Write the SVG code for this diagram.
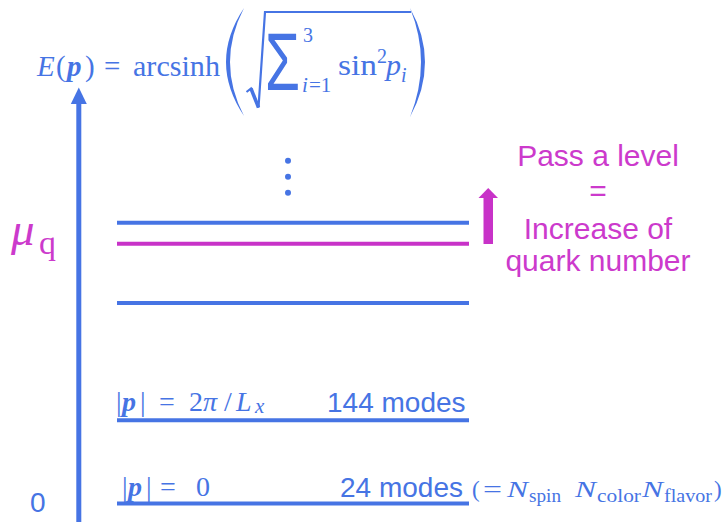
<svg xmlns="http://www.w3.org/2000/svg" width="727" height="522" viewBox="0 0 727 522">
<style>
.b{fill:#4674E4}
.m{fill:#CC3ACC}
.serif{font-family:"Liberation Serif","DejaVu Serif",serif}
.sans{font-family:"Liberation Sans","DejaVu Sans",sans-serif}
.it{font-style:italic}
.bi{font-style:italic;font-weight:bold}
.lvl{stroke-width:4;fill:none}
.lb{stroke:#4674E4}
.lm{stroke:#C832C8}
</style>
<rect width="727" height="522" fill="#FFFFFF"/>
<g id="connectors">
  <g id="energy-axis">
    <rect x="76.3" y="102" width="5" height="420" fill="#4674E4"/>
    <polygon points="78.8,87.5 70.8,104 86.8,104" fill="#4674E4"/>
  </g>
  <g id="pass-arrow">
    <rect x="483.5" y="196" width="9.5" height="48" fill="#C832C8"/>
    <polygon points="488.2,188 478.5,198 498,198" fill="#C832C8"/>
  </g>
</g>
<g id="levels">
  <line id="level-top" class="lvl lb" x1="117" y1="222.7" x2="469" y2="222.7"/>
  <line id="level-mu" class="lvl lm" x1="117" y1="243.7" x2="469" y2="243.7"/>
  <line id="level-3" class="lvl lb" x1="117" y1="303" x2="469" y2="303"/>
  <line id="level-2" class="lvl lb" x1="117" y1="420.3" x2="469" y2="420.3"/>
  <line id="level-1" class="lvl lb" x1="117" y1="503.5" x2="469" y2="503.5"/>
  <g id="dots" fill="#4674E4">
    <circle cx="288" cy="160.7" r="3"/>
    <circle cx="288" cy="176.7" r="3"/>
    <circle cx="288" cy="192.7" r="3"/>
  </g>
</g>
<g id="formula" class="b">
  <text class="serif" font-size="29" y="76"><tspan class="it" x="37">E</tspan><tspan x="56">(</tspan><tspan class="bi" x="67">p</tspan><tspan x="85">)</tspan><tspan x="104">=</tspan><tspan x="133" textLength="87" lengthAdjust="spacingAndGlyphs">arcsinh</tspan></text>
  <path d="M244,8 Q208,62 244,116 Q216,62 244,8 Z"/>
  <path d="M410,8 Q440,62 410,117 Q432,62 410,8 Z"/>
  <polyline points="246.5,92 251,88.5 258.5,107.5 265,12 411,12" fill="none" stroke="#4674E4" stroke-width="2.2" stroke-linejoin="miter"/>
  <line x1="251" y1="88.5" x2="258.5" y2="107.5" stroke="#4674E4" stroke-width="3.5"/>
  <text class="sans" font-size="81" transform="translate(265,90) scale(0.7,1)">Σ</text>
  <text class="serif" font-size="20" x="303" y="42">3</text>
  <text class="serif" font-size="21" y="92"><tspan class="it" x="302">i</tspan><tspan x="309">=1</tspan></text>
  <text class="serif" font-size="30" y="75"><tspan x="338" textLength="39" lengthAdjust="spacingAndGlyphs">sin</tspan><tspan x="377" y="63" font-size="20">2</tspan><tspan class="it" x="386" y="75">p</tspan><tspan class="it" x="401" y="82" font-size="20">i</tspan></text>
</g>
<g id="mu-label" class="m">
  <text class="serif" y="245"><tspan class="it" x="11" font-size="47">μ</tspan><tspan x="39" y="254" font-size="34">q</tspan></text>
</g>
<g id="zero-label" class="b">
  <text class="sans" font-size="28" x="30" y="512">0</text>
</g>
<g id="pass-label" class="m" font-size="30">
  <text class="sans" x="598" y="166" text-anchor="middle">Pass a level</text>
  <text class="sans" x="598" y="201" text-anchor="middle" font-weight="300">=</text>
  <text class="sans" x="598" y="238.5" text-anchor="middle">Increase of</text>
  <text class="sans" x="598" y="271" text-anchor="middle">quark number</text>
</g>
<g id="level-2-label" class="b">
  <text class="serif" font-size="28" y="410.5"><tspan x="116">|</tspan><tspan class="bi" x="122">p</tspan><tspan x="140">|</tspan><tspan x="159">=</tspan><tspan x="189">2</tspan><tspan class="it" x="203">π</tspan><tspan x="224">/</tspan><tspan class="it" x="236">L</tspan><tspan class="it" x="255" y="413" font-size="21">x</tspan></text>
  <text class="sans" font-size="28" x="327" y="411.7">144 modes</text>
</g>
<g id="level-1-label" class="b">
  <text class="serif" font-size="28" y="495.5"><tspan x="122">|</tspan><tspan class="bi" x="128">p</tspan><tspan x="146">|</tspan><tspan x="160">=</tspan><tspan x="196">0</tspan></text>
  <text class="sans" font-size="28" x="340" y="496.7">24 modes</text>
  <text class="serif" font-size="23" y="497"><tspan x="472">(</tspan><tspan x="483" textLength="19" lengthAdjust="spacingAndGlyphs">=</tspan><tspan class="it" x="507" textLength="21" lengthAdjust="spacingAndGlyphs">N</tspan><tspan x="529" y="501.5" font-size="18" textLength="32" lengthAdjust="spacingAndGlyphs">spin</tspan><tspan class="it" x="575" y="497" textLength="21" lengthAdjust="spacingAndGlyphs">N</tspan><tspan x="597" y="501.5" font-size="18" textLength="44" lengthAdjust="spacingAndGlyphs">color</tspan><tspan class="it" x="642" y="497" textLength="21" lengthAdjust="spacingAndGlyphs">N</tspan><tspan x="664" y="501.5" font-size="18" textLength="48" lengthAdjust="spacingAndGlyphs">flavor</tspan><tspan x="714" y="497">)</tspan></text>
</g>
</svg>
